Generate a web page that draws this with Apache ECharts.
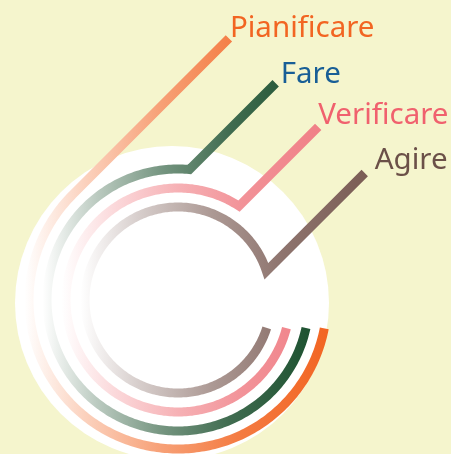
<!DOCTYPE html>
<html>
<head>
<meta charset="utf-8">
<script src="https://cdn.jsdelivr.net/npm/echarts@6/dist/echarts.min.js"></script>
<style>
  html, body { margin: 0; padding: 0; background: #f5f5cd; }
  #chart { width: 451px; height: 454px; }
</style>
</head>
<body>
<div id="chart"></div>
<script>
// 四个阶段（PDCA）
const phases = ['Pianificare', 'Fare', 'Verificare', 'Agire'];
const radii = [149, 131, 112, 93];            // 弧半径
const kinkAngles = [135, 85, 57, 18];         // 弧与引线的转折角（度）
const endAngles = [-11, -12.3, -14.5, -17.5]; // 弧在右下方的结束角（度）
const leaderLengths = [221, 122, 112, 139];   // 引线长度（45°方向）
const backdropRadius = 157;
const backdropCenter = [-6, -3];

// 样式
const lineColors = ['#f26522', '#1e5231', '#f07f86', '#7a5c54'];
const textColors = ['#f26522', '#185e96', '#f0616e', '#6b5048'];
const labelDx = [1, 5, 0, 10];
const labelDy = [-10, -9, -11, -12];
// 渐变：白色 -> 颜色（非线性）
const gradOffsets = [0, 0.2, 0.45, 0.7, 1];
const gradStrength = [0, 0.3, 0.62, 0.85, 1];

const chart = echarts.init(document.getElementById('chart'));

const rad = (d) => d * Math.PI / 180;

const mixWhite = (hex, t) => {
    const n = parseInt(hex.slice(1), 16);
    const c = [(n >> 16) & 255, (n >> 8) & 255, n & 255].map(v => Math.round(255 + (v - 255) * t));
    return `rgb(${c[0]},${c[1]},${c[2]})`;
};

const option = {
    backgroundColor: '#f5f5cd',
    animation: false,
    grid: { left: 0, right: 0, top: 0, bottom: 0 },
    xAxis: { type: 'value', min: -178, max: 273, show: false },
    yAxis: { type: 'value', min: -154, max: 300, show: false },
    series: [
        {
            // 白色底圆
            type: 'custom',
            clip: false,
            data: [backdropCenter],
            renderItem: (params, api) => {
                const c = api.coord(backdropCenter);
                const e = api.coord([backdropCenter[0] + backdropRadius, backdropCenter[1]]);
                return {
                    type: 'circle',
                    shape: { cx: c[0], cy: c[1], r: e[0] - c[0] },
                    style: { fill: '#ffffff' }
                };
            }
        },
        {
            type: 'custom',
            clip: false,
            data: phases.map((_, i) => [i, i]),
            renderItem: (params, api) => {
                const i = params.dataIndex;
                const r = radii[i];
                const k = kinkAngles[i];
                const kink = [r * Math.cos(rad(k)), r * Math.sin(rad(k))];
                const L = leaderLengths[i];
                const tip = [kink[0] + L * Math.SQRT1_2, kink[1] + L * Math.SQRT1_2];
                const pts = [api.coord(tip)];
                const stop = 360 + endAngles[i];
                for (let a = k; a < stop; a += 1) {
                    pts.push(api.coord([r * Math.cos(rad(a)), r * Math.sin(rad(a))]));
                }
                pts.push(api.coord([r * Math.cos(rad(stop)), r * Math.sin(rad(stop))]));
                const tipPx = pts[0];
                return {
                    type: 'group',
                    children: [
                        {
                            type: 'polyline',
                            shape: { points: pts },
                            style: {
                                fill: null,
                                lineWidth: 9,
                                lineCap: 'butt',
                                lineJoin: 'miter',
                                stroke: new echarts.graphic.LinearGradient(0, 0, 1, 0,
                                    gradOffsets.map((o, j) => ({ offset: o, color: mixWhite(lineColors[i], gradStrength[j]) }))
                                )
                            }
                        },
                        {
                            type: 'text',
                            x: tipPx[0] + labelDx[i],
                            y: tipPx[1] + labelDy[i],
                            style: {
                                text: phases[i],
                                fill: textColors[i],
                                font: '29.5px "Noto Sans"',
                                align: 'left',
                                verticalAlign: 'middle'
                            }
                        }
                    ]
                };
            }
        }
    ]
};

chart.setOption(option);
</script>
</body>
</html>
